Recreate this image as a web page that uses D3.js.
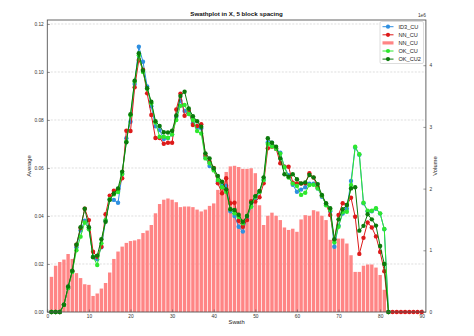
<!DOCTYPE html>
<html>
<head>
<meta charset="utf-8">
<script src="https://cdn.jsdelivr.net/npm/d3@7"></script>
<style>
  html, body { margin: 0; padding: 0; background: #fff; }
  svg { display: block; font-family: "Liberation Sans", Arial, sans-serif; }
</style>
</head>
<body>
<svg id="chart" width="474" height="336"></svg>
<script>
// Swath positions (block index along X)
const swath = d3.range(1, 91);

// Grade averages per swath (null = no blocks in swath)
const id3CU = [0,0,0,0.003,0.010,0.017,0.027,0.034,0.038,0.035,
  0.023,0.022,0.027,0.038,0.047,0.0467,0.0455,0.0575,0.0724,0.0793,
  0.095,0.1105,0.1043,0.094,0.0857,0.0774,0.0758,0.0721,0.0725,0.074,
  0.0814,0.088,0.0838,0.083,0.0786,0.077,0.0765,0.0647,0.0608,0.0595,
  0.0543,0.0526,0.0526,0.042,0.040,0.0355,0.0335,0.039,0.044,0.047,
  0.050,0.055,0.0707,0.0705,0.068,0.0664,0.0605,0.057,0.053,0.0501,
  0.051,0.052,0.0535,0.0535,0.0515,0.048,0.045,0.042,0.0272,0.036,
  0.041,0.043,0.0546,0.0685,0.0655,0.0453,0.042,0.042,0.043,0.041,
  0.0345,0,null,null,null,null,null,null,null,null];

const nnCU = [0,0,0,0.003,0.010,0.017,0.028,0.035,0.043,0.0383,
  0.0251,0.023,0.0272,0.0407,0.0485,0.0505,0.051,0.0557,0.0755,0.0754,
  0.0936,0.105,0.101,0.0911,0.0821,0.0725,0.0725,0.0701,0.0705,0.0705,
  0.0844,0.091,0.0818,0.084,0.0779,0.0775,0.0782,0.0654,0.0626,0.060,
  0.0536,0.0495,0.0557,0.0453,0.0455,0.038,0.0355,0.0383,0.0462,0.046,
  0.0478,0.0536,0.0682,0.0689,0.068,0.062,0.0605,0.0605,0.0539,0.0536,
  0.0535,0.0536,0.0578,0.056,0.052,0.0485,0.045,0.0404,0.030,0.0404,
  0.0453,0.0446,0.0476,0.0397,0.0242,0.0309,0.0373,0.0352,0.0315,0.025,
  0.017,0,0,0,0,0,0,0,0,0];

const okCU = [0,0,0,0.003,0.010,0.0167,0.0257,0.0314,0.0373,0.0345,
  0.023,0.0196,0.0286,0.0383,0.047,0.049,0.050,0.0575,0.071,0.082,
  0.096,0.107,0.100,0.093,0.087,0.079,0.073,0.073,0.0726,0.074,
  0.080,0.0859,0.0863,0.0825,0.080,0.0754,0.0744,0.064,0.062,0.059,
  0.055,0.052,0.0501,0.0428,0.0411,0.0397,0.037,0.040,0.0439,0.048,
  0.050,0.055,0.070,0.069,0.068,0.066,0.0603,0.056,0.0535,0.0525,
  0.0488,0.0497,0.0529,0.053,0.0515,0.0485,0.0445,0.0425,0.029,0.0355,
  0.0416,0.0418,0.0529,0.0689,0.0657,0.0455,0.0422,0.0422,0.0432,0.0411,
  0.0346,0,null,null,null,null,null,null,null,null];

const okCU2 = [0,0,0,0.003,0.0106,0.0172,0.028,0.0353,0.043,0.0353,
  0.0228,0.0235,0.0303,0.0376,0.0467,0.0494,0.0515,0.0585,0.0707,0.0824,
  0.0964,0.1078,0.1006,0.0932,0.0876,0.0795,0.0775,0.0749,0.0748,0.0755,
  0.0819,0.090,0.0918,0.0848,0.0816,0.0795,0.0772,0.0661,0.064,0.0599,
  0.0567,0.0543,0.0511,0.0428,0.0425,0.0405,0.0376,0.040,0.0455,0.0483,
  0.0504,0.0561,0.0724,0.0705,0.0689,0.064,0.0574,0.0564,0.0574,0.0553,
  0.0536,0.054,0.0571,0.0561,0.0533,0.0488,0.0453,0.0432,0.0303,0.0386,
  0.0428,0.0446,0.0515,0.052,0.0339,0.0359,0.0407,0.0386,0.036,0.0275,
  0.020,0,null,null,null,null,null,null,null,null];

// Block volume per swath, in millions (bars, right axis)
const volumeSwath = d3.range(1, 82);
const volume = [0.57,0.75,0.81,0.85,0.94,0.86,0.63,0.55,0.45,0.44,
  0.26,0.30,0.38,0.47,0.64,0.86,0.98,1.06,1.12,1.15,
  1.16,1.18,1.28,1.32,1.41,1.60,1.75,1.82,1.84,1.82,
  1.78,1.70,1.71,1.71,1.70,1.66,1.63,1.66,1.72,1.76,
  1.98,2.14,2.27,2.36,2.37,2.35,2.32,2.32,2.33,2.25,
  1.73,1.41,1.56,1.61,1.56,1.49,1.37,1.33,1.35,1.30,
  1.50,1.57,1.56,1.65,1.63,1.56,1.49,1.17,1.09,1.19,
  1.19,1.11,0.92,0.65,0.65,0.75,0.77,0.77,0.72,0.60,
  0.36];

const xTicks = d3.range(0, 91, 10);
const leftTicks = [0, 0.02, 0.04, 0.06, 0.08, 0.10, 0.12];
const rightTicks = [0, 1, 2, 3, 4];

const series = [
  { name: "ID3_CU", values: id3CU, color: "#2f8fe0" },
  { name: "NN_CU", values: nnCU, color: "#dd1a1a" },
  { name: "OK_CU", values: okCU, color: "#2ee82e" },
  { name: "OK_CU2", values: okCU2, color: "#0b7a0b" }
];
const barColor = "#ff8585";

const svg = d3.select("#chart");
const plot = { left: 47.3, right: 425.9, top: 20, bottom: 312 };

const x = d3.scaleLinear().domain([0, 91]).range([plot.left, plot.right]);
const yL = d3.scaleLinear().domain([0, 0.121667]).range([plot.bottom, plot.top]);
const yR = d3.scaleLinear().domain([0, 4.733]).range([plot.bottom, plot.top]);

// Horizontal grid on the average axis
svg.append("g")
  .selectAll("line")
  .data(leftTicks.filter(d => d > 0))
  .join("line")
  .attr("x1", plot.left).attr("x2", plot.right)
  .attr("y1", d => yL(d)).attr("y2", d => yL(d))
  .attr("stroke", "#d0d0d0").attr("stroke-width", 0.7)
  .attr("stroke-dasharray", "2,1.5");

// Volume bars
const barW = (x(1) - x(0)) * 0.82;
svg.append("g")
  .selectAll("rect")
  .data(volume.map((v, i) => ({ s: volumeSwath[i], v })))
  .join("rect")
  .attr("x", d => x(d.s) - barW / 2)
  .attr("width", barW)
  .attr("y", d => yR(d.v))
  .attr("height", d => yR(0) - yR(d.v))
  .attr("fill", barColor);

// Lines and markers
const line = d3.line()
  .defined(d => d.v !== null)
  .x(d => x(d.s))
  .y(d => yL(d.v));

series.forEach(s => {
  const pts = s.values.map((v, i) => ({ s: swath[i], v }));
  const g = svg.append("g");
  g.append("path")
    .datum(pts)
    .attr("d", line)
    .attr("fill", "none")
    .attr("stroke", s.color)
    .attr("stroke-width", 1);
  g.selectAll("circle")
    .data(pts.filter(d => d.v !== null))
    .join("circle")
    .attr("cx", d => x(d.s))
    .attr("cy", d => yL(d.v))
    .attr("r", 2.2)
    .attr("fill", s.color);
});

// Frame
svg.append("rect")
  .attr("x", plot.left).attr("y", plot.top)
  .attr("width", plot.right - plot.left)
  .attr("height", plot.bottom - plot.top)
  .attr("fill", "none").attr("stroke", "#555").attr("stroke-width", 0.9);

const tickFont = 4.8;

// Axes (ticks point inward)
const xAxis = d3.axisBottom(x).tickValues(xTicks).tickSizeInner(-2.5).tickSizeOuter(0).tickPadding(2.5);
const gx = svg.append("g").attr("transform", `translate(0,${plot.bottom})`).call(xAxis);

const yAxisL = d3.axisLeft(yL).tickValues(leftTicks).tickFormat(d3.format(".2f"))
  .tickSizeInner(-2.5).tickSizeOuter(0).tickPadding(3.5);
const gyl = svg.append("g").attr("transform", `translate(${plot.left},0)`).call(yAxisL);

const yAxisR = d3.axisRight(yR).tickValues(rightTicks).tickFormat(d3.format("d"))
  .tickSizeInner(-2.5).tickSizeOuter(0).tickPadding(3.5);
const gyr = svg.append("g").attr("transform", `translate(${plot.right},0)`).call(yAxisR);

[gx, gyl, gyr].forEach(g => {
  g.select(".domain").remove();
  g.selectAll(".tick line").attr("stroke", "#555").attr("stroke-width", 0.6);
  g.selectAll(".tick text").attr("font-size", tickFont).attr("fill", "#333")
    .attr("font-family", "Liberation Sans, Arial, sans-serif");
});

// Offset text for the volume axis
svg.append("text")
  .attr("x", plot.right).attr("y", plot.top - 3)
  .attr("text-anchor", "end")
  .attr("font-size", 4.8).attr("fill", "#333")
  .text("1e6");

// Title and axis labels
svg.append("text")
  .attr("x", (plot.left + plot.right) / 2).attr("y", 16)
  .attr("text-anchor", "middle")
  .attr("font-size", 6.2).attr("font-weight", "bold").attr("fill", "#111")
  .text("Swathplot in X, 5 block spacing");

svg.append("text")
  .attr("x", (plot.left + plot.right) / 2).attr("y", 324)
  .attr("text-anchor", "middle")
  .attr("font-size", 5.8).attr("fill", "#222")
  .text("Swath");

svg.append("text")
  .attr("transform", `translate(31,${(plot.top + plot.bottom) / 2}) rotate(-90)`)
  .attr("text-anchor", "middle")
  .attr("font-size", 5.8).attr("fill", "#222")
  .text("Average");

svg.append("text")
  .attr("transform", `translate(437,${(plot.top + plot.bottom) / 2}) rotate(-90)`)
  .attr("text-anchor", "middle")
  .attr("font-size", 5.8).attr("fill", "#222")
  .text("Volume");

// Legend
const legendItems = [
  { name: "ID3_CU", type: "line", color: series[0].color },
  { name: "NN_CU", type: "line", color: series[1].color },
  { name: "NN_CU", type: "bar", color: barColor },
  { name: "OK_CU", type: "line", color: series[2].color },
  { name: "OK_CU2", type: "line", color: series[3].color }
];
const lg = svg.append("g").attr("transform", "translate(380,21.5)");
lg.append("rect")
  .attr("width", 43.5).attr("height", 42)
  .attr("rx", 1.5)
  .attr("fill", "#fff").attr("fill-opacity", 0.85)
  .attr("stroke", "#cfcfcf").attr("stroke-width", 0.7);
legendItems.forEach((d, i) => {
  const cy = 5.2 + i * 8.1;
  const row = lg.append("g").attr("transform", `translate(0,${cy})`);
  if (d.type === "line") {
    row.append("line").attr("x1", 2.5).attr("x2", 13.5).attr("y1", 0).attr("y2", 0)
      .attr("stroke", d.color).attr("stroke-width", 1);
    row.append("circle").attr("cx", 8).attr("cy", 0).attr("r", 2.1).attr("fill", d.color);
  } else {
    row.append("rect").attr("x", 2.5).attr("y", -1.6).attr("width", 11).attr("height", 3.2)
      .attr("fill", d.color);
  }
  row.append("text").attr("x", 18.5).attr("y", 2)
    .attr("font-size", 5.6).attr("fill", "#222")
    .text(d.name);
});
</script>
</body>
</html>
